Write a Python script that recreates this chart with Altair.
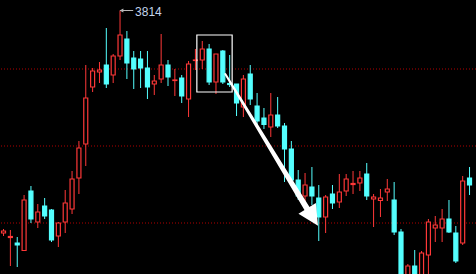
import altair as alt
import pandas as pd

# ---- candle data (index, open, high, low, close) ----
idx = list(range(-1, 68))
opens = [3369, 3360, 3349, 3334, 3453, 3391, 3423, 3415, 3363, 3391, 3417, 3479, 3547, 3661, 3691, 3705,
         3685, 3723, 3757, 3719, 3717, 3699, 3667, 3677, 3705, 3674, 3679, 3637, 3714, 3715, 3737, 3671,
         3733, 3668, 3667, 3621, 3687, 3623, 3599, 3581, 3605, 3583, 3537, 3475, 3443, 3461, 3439, 3401,
         3447, 3431, 3453, 3466, 3469, 3487, 3437, 3434, 3451, 3435, 3371, 3255, 3303, 3265, 3325, 3379,
         3379, 3397, 3369, 3349, 3479]
highs = [3377, 3375, 3361, 3445, 3463, 3427, 3439, 3417, 3391, 3455, 3493, 3553, 3705, 3699, 3711, 3779,
         3727, 3814, 3773, 3733, 3733, 3733, 3685, 3767, 3715, 3697, 3685, 3713, 3737, 3753, 3747, 3727,
         3735, 3725, 3667, 3685, 3705, 3649, 3619, 3649, 3641, 3589, 3553, 3495, 3489, 3501, 3465, 3445,
         3465, 3487, 3487, 3493, 3493, 3509, 3447, 3457, 3477, 3471, 3377, 3307, 3335, 3333, 3397, 3403,
         3417, 3435, 3383, 3483, 3501]
lows = [3363, 3303, 3301, 3333, 3389, 3379, 3397, 3351, 3341, 3369, 3407, 3447, 3503, 3651, 3669, 3659,
        3669, 3715, 3677, 3657, 3659, 3637, 3645, 3669, 3663, 3643, 3629, 3601, 3695, 3697, 3665, 3647,
        3667, 3661, 3603, 3601, 3625, 3585, 3577, 3561, 3579, 3471, 3469, 3435, 3429, 3425, 3353, 3369,
        3417, 3419, 3443, 3447, 3453, 3435, 3381, 3401, 3433, 3365, 3255, 3245, 3245, 3255, 3275, 3351,
        3351, 3369, 3309, 3345, 3445]
closes = [3373, 3362, 3345, 3435, 3397, 3411, 3403, 3355, 3389, 3429, 3477, 3539, 3639, 3693, 3695, 3667,
          3723, 3765, 3709, 3697, 3699, 3661, 3673, 3705, 3681, 3675, 3643, 3707, 3715, 3737, 3671, 3727,
          3671, 3666, 3629, 3677, 3637, 3593, 3586, 3605, 3583, 3537, 3475, 3443, 3465, 3443, 3401, 3441,
          3429, 3451, 3477, 3468, 3479, 3443, 3441, 3439, 3457, 3371, 3265, 3303, 3255, 3329, 3391, 3385,
          3397, 3371, 3313, 3473, 3465]

grid_levels = [3697, 3543, 3389]
peak_label = "3814"
peak_idx = 16
peak_value = 3814

# highlight box (candle index range, price range)
box_x = [27.21, 32.36]
box_y = [3765, 3651]

# big trend arrow (candle index, price)
arrow_idx = [31.36, 43.5]
arrow_price = [3687, 3413]
arrow_width = [2, 6]
head_idx = [44.1]
head_price = [3401]

RED = "#ff3838"
CYAN = "#54ffff"

df = pd.DataFrame({"i": idx, "open": opens, "high": highs, "low": lows, "close": closes})
df["up"] = df["close"] >= df["open"]
df["col"] = df["up"].map({True: RED, False: CYAN})
df["fill"] = df["up"].map({True: "#000000", False: CYAN})

xs = alt.Scale(domain=[-5.5 / 7, (476 - 5.5) / 7], nice=False, zero=False)
ys = alt.Scale(domain=[3287, 3835], nice=False, zero=False)
X = lambda f: alt.X(f, type="quantitative", scale=xs, axis=None)
Y = lambda f: alt.Y(f, type="quantitative", scale=ys, axis=None)

grid = alt.Chart(pd.DataFrame({"g": grid_levels})).mark_rule(
    color="#b00000", strokeDash=[1, 2], strokeWidth=1
).encode(y=Y("g"))

base = alt.Chart(df)
wicks = base.mark_rule(strokeWidth=1, clip=True).encode(
    x=X("i"), y=Y("low"), y2="high", color=alt.Color("col:N", scale=None)
)
bodies = base.mark_bar(size=4, strokeWidth=1.2, clip=True).encode(
    x=X("i"), y=Y("open"), y2="close",
    stroke=alt.Stroke("col:N", scale=None),
    fill=alt.Fill("fill:N", scale=None),
)

box = alt.Chart(pd.DataFrame({"x1": [box_x[0]], "x2": [box_x[1]], "y1": [box_y[0]], "y2": [box_y[1]]})).mark_rect(
    filled=False, stroke="white", strokeWidth=1.2
).encode(x=X("x1"), x2="x2", y=Y("y1"), y2="y2")

arrow = alt.Chart(pd.DataFrame({"x": arrow_idx, "y": arrow_price, "w": arrow_width})).mark_trail(
    color="white"
).encode(x=X("x"), y=Y("y"), size=alt.Size("w:Q", scale=None, legend=None))

head = alt.Chart(pd.DataFrame({"x": head_idx, "y": head_price})).mark_point(
    shape="M0,-1L1,1L-1,1Z", filled=True, color="white", opacity=1, size=420, angle=148
).encode(x=X("x"), y=Y("y"))

lab_df = pd.DataFrame({"x1": [peak_idx + 0.0], "x2": [peak_idx + 1.92], "y": [peak_value], "t": [peak_label]})
lab_line = alt.Chart(lab_df).mark_rule(color="#b8b8b8", strokeWidth=1).encode(
    x=X("x1"), x2="x2", y=Y("y")
)
lab_head = alt.Chart(lab_df).mark_point(
    shape="triangle-left", filled=True, color="#b8b8b8", opacity=1, size=18, xOffset=1.5
).encode(x=X("x1"), y=Y("y"))
lab_text = alt.Chart(lab_df).mark_text(
    align="left", baseline="middle", dx=15, dy=1, fontSize=12,
    font="Liberation Sans Narrow, Arial Narrow, Liberation Sans, sans-serif", color="#c4d4ec"
).encode(x=X("x1"), y=Y("y"), text="t:N")

chart = alt.layer(grid, wicks, bodies, box, arrow, head, lab_line, lab_head, lab_text).properties(
    width=476, height=274, padding=0, autosize="none", background="#000000"
).configure_view(stroke=None)

chart.save("out.html", embed_options={"renderer": "svg", "actions": False})
